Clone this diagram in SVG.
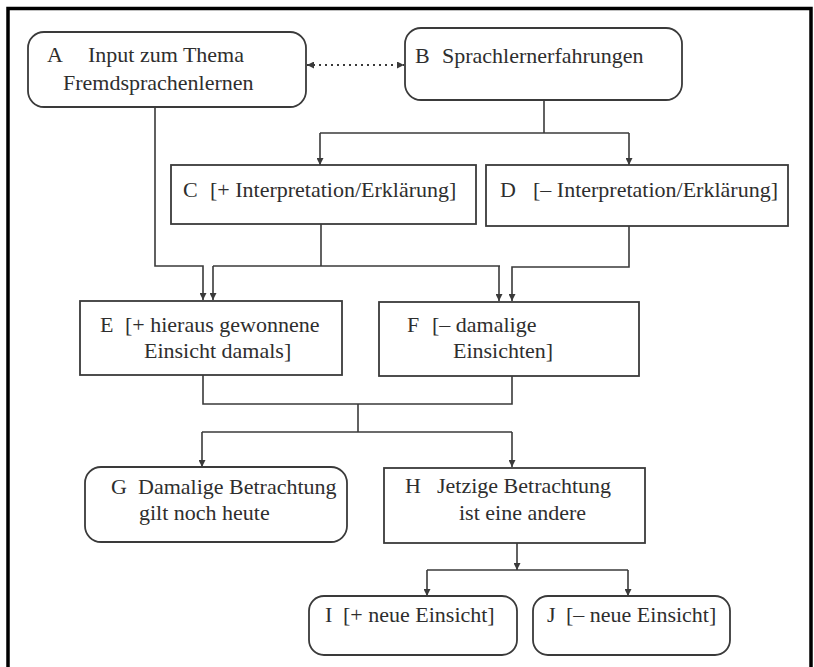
<svg xmlns="http://www.w3.org/2000/svg" width="814" height="667" viewBox="0 0 814 667">
<style>
.box{fill:#fff;stroke:#3a3a3a;stroke-width:1.8}
text{font-family:'Liberation Serif','DejaVu Serif',serif;font-size:22px;fill:#2e2e2e}
.c{fill:none;stroke:#3a3a3a;stroke-width:1.6}
.d{fill:none;stroke:#3a3a3a;stroke-width:1.8;stroke-dasharray:2 4}
</style>
<defs>
<marker id="ah" viewBox="0 0 10 10" refX="10" refY="5" markerWidth="7" markerHeight="7" markerUnits="userSpaceOnUse" orient="auto-start-reverse">
<path d="M0,0 L10,5 L0,10 z" fill="#3a3a3a"/>
</marker>
</defs>
<rect width="814" height="667" fill="#fff"/>
<path d="M8,667 V8.5 H811 V667" fill="none" stroke="#000" stroke-width="3.5"/>

<g id="connectors">
<path class="d" d="M307,65 H404" marker-start="url(#ah)" marker-end="url(#ah)"/>
<path class="c" d="M544,100 V133"/>
<path class="c" d="M320,133 H629"/>
<path class="c" d="M320,133 V165" marker-end="url(#ah)"/>
<path class="c" d="M629,133 V165" marker-end="url(#ah)"/>
<path class="c" d="M155,107 V266 H203 V300" marker-end="url(#ah)"/>
<path class="c" d="M321,224 V266"/>
<path class="c" d="M213,266 H500"/>
<path class="c" d="M213,266 V300" marker-end="url(#ah)"/>
<path class="c" d="M499,266 V301" marker-end="url(#ah)"/>
<path class="c" d="M629,226 V267 H512 V301" marker-end="url(#ah)"/>
<path class="c" d="M203,375 V404 H512 V376"/>
<path class="c" d="M358,404 V432"/>
<path class="c" d="M202,432 H512"/>
<path class="c" d="M202,432 V467" marker-end="url(#ah)"/>
<path class="c" d="M512,432 V467" marker-end="url(#ah)"/>
<path class="c" d="M517,543 V570" marker-end="url(#ah)"/>
<path class="c" d="M427,570 H628"/>
<path class="c" d="M427,570 V596" marker-end="url(#ah)"/>
<path class="c" d="M628,570 V596" marker-end="url(#ah)"/>
</g>

<g id="A">
<rect class="box" x="28" y="32" width="278" height="75" rx="16"/>
<text font-family="Liberation Serif, serif"><tspan x="47" y="62">A</tspan><tspan x="88" y="62">Input zum Thema</tspan><tspan x="63" y="90">Fremdsprachenlernen</tspan></text>
</g>
<g id="B">
<rect class="box" x="405" y="28" width="277" height="72" rx="16"/>
<text font-family="Liberation Serif, serif"><tspan x="415" y="63">B</tspan><tspan x="442" y="63">Sprachlernerfahrungen</tspan></text>
</g>
<g id="C">
<rect class="box" x="171" y="165" width="305" height="59"/>
<text font-family="Liberation Serif, serif"><tspan x="183" y="197">C</tspan><tspan x="210" y="197">[+ Interpretation/Erklärung]</tspan></text>
</g>
<g id="D">
<rect class="box" x="486" y="165" width="302" height="61"/>
<text font-family="Liberation Serif, serif"><tspan x="500" y="197">D</tspan><tspan x="533" y="197">[– Interpretation/Erklärung]</tspan></text>
</g>
<g id="E">
<rect class="box" x="80" y="301" width="262" height="74"/>
<text font-family="Liberation Serif, serif"><tspan x="100" y="332">E</tspan><tspan x="125" y="332">[+ hieraus gewonnene</tspan><tspan x="144" y="358">Einsicht damals]</tspan></text>
</g>
<g id="F">
<rect class="box" x="379" y="302" width="260" height="74"/>
<text font-family="Liberation Serif, serif"><tspan x="407" y="332">F</tspan><tspan x="432" y="332">[– damalige</tspan><tspan x="453" y="358">Einsichten]</tspan></text>
</g>
<g id="G">
<rect class="box" x="85" y="467" width="262" height="75" rx="16"/>
<text font-family="Liberation Serif, serif"><tspan x="111" y="494">G</tspan><tspan x="138" y="494">Damalige Betrachtung</tspan><tspan x="139" y="520">gilt noch heute</tspan></text>
</g>
<g id="H">
<rect class="box" x="384" y="468" width="261" height="75"/>
<text font-family="Liberation Serif, serif"><tspan x="405" y="493">H</tspan><tspan x="437" y="493">Jetzige Betrachtung</tspan><tspan x="459" y="520">ist eine andere</tspan></text>
</g>
<g id="I">
<rect class="box" x="309" y="596" width="208" height="59" rx="15"/>
<text font-family="Liberation Serif, serif"><tspan x="325" y="622">I</tspan><tspan x="343" y="622">[+ neue Einsicht]</tspan></text>
</g>
<g id="J">
<rect class="box" x="533" y="596" width="197" height="59" rx="15"/>
<text font-family="Liberation Serif, serif"><tspan x="547" y="622">J</tspan><tspan x="566" y="622">[– neue Einsicht]</tspan></text>
</g>
</svg>
